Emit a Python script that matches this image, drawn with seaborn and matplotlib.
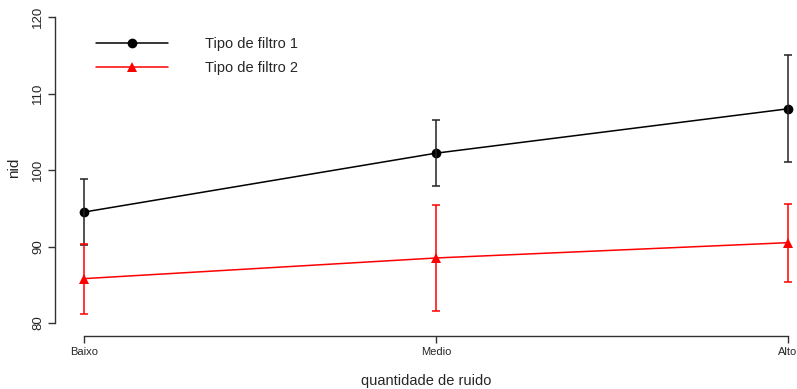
import pandas as pd
import seaborn as sns
import matplotlib
import matplotlib.pyplot as plt

matplotlib.use('Agg')

# Data
niveis = ["Baixo", "Medio", "Alto"]
filtro1_media = [94.5, 102.2, 108.0]
filtro1_inf = [90.2, 97.9, 101.0]
filtro1_sup = [98.8, 106.6, 115.0]
filtro2_media = [85.8, 88.5, 90.5]
filtro2_inf = [81.2, 81.6, 85.3]
filtro2_sup = [90.3, 95.4, 95.6]
y_ticks = [80, 90, 100, 110, 120]

sns.set_style("ticks")
plt.rcParams['font.family'] = ['Liberation Sans', 'DejaVu Sans']

df = pd.DataFrame({
    "ruido": niveis * 2,
    "pos": list(range(3)) * 2,
    "nid": filtro1_media + filtro2_media,
    "filtro": ["Tipo de filtro 1"] * 3 + ["Tipo de filtro 2"] * 3,
})

fig = plt.figure(figsize=(7.97, 3.89), dpi=100)
ax = fig.add_axes([55 / 797, 53 / 389, 742 / 797, 336 / 389])

cores = {"Tipo de filtro 1": "black", "Tipo de filtro 2": "red"}
marcas = {"Tipo de filtro 1": "o", "Tipo de filtro 2": "^"}

sns.lineplot(data=df, x="pos", y="nid", hue="filtro", style="filtro",
             palette=cores, markers=marcas, dashes=False, markersize=7,
             markeredgewidth=0, linewidth=1.1, ax=ax, legend=False)

series = [
    ("Tipo de filtro 1", filtro1_media, filtro1_inf, filtro1_sup, "#222222"),
    ("Tipo de filtro 2", filtro2_media, filtro2_inf, filtro2_sup, "red"),
]
for nome, med, inf, sup, cor in series:
    err = [[m - lo for m, lo in zip(med, inf)], [hi - m for m, hi in zip(med, sup)]]
    ax.errorbar(range(3), med, yerr=err, fmt="none", ecolor=cor,
                elinewidth=1.1, capsize=3, capthick=1.1)

# legend drawn as proxy handles
handles = [plt.Line2D([], [], color=cores[n], marker=marcas[n], markersize=7,
                      markeredgewidth=0, linewidth=1.1) for n in cores]
ax.legend(handles, list(cores), loc="upper left", bbox_to_anchor=(0.0377, 0.9286),
          frameon=False, fontsize=10.5, handlelength=4.9, handletextpad=2.6,
          labelspacing=0.7)

ax.set_xlim((55 - 84) / 352, (797 - 84) / 352)
ax.set_ylim(80 - 13 / 7.65, 120 + 17 / 7.65)
ax.set_xticks(range(3))
ax.set_xticklabels(niveis, fontsize=8)
ax.set_yticks(y_ticks)
ax.set_yticklabels([str(v) for v in y_ticks], fontsize=9.5, rotation=90, va="center")

sns.despine(ax=ax)
ax.spines["left"].set_bounds(80, 120)
ax.spines["bottom"].set_bounds(0, 2)
for s in ["left", "bottom"]:
    ax.spines[s].set_linewidth(1.0)
    ax.spines[s].set_color("#333333")
ax.tick_params(axis="both", length=5, width=1.0, color="#333333", pad=3)

ax.set_xlabel("quantidade de ruido", fontsize=10.5, labelpad=12)
ax.set_ylabel("nid", fontsize=11, labelpad=8)

plt.savefig("out.png", dpi=100)
plt.close()
